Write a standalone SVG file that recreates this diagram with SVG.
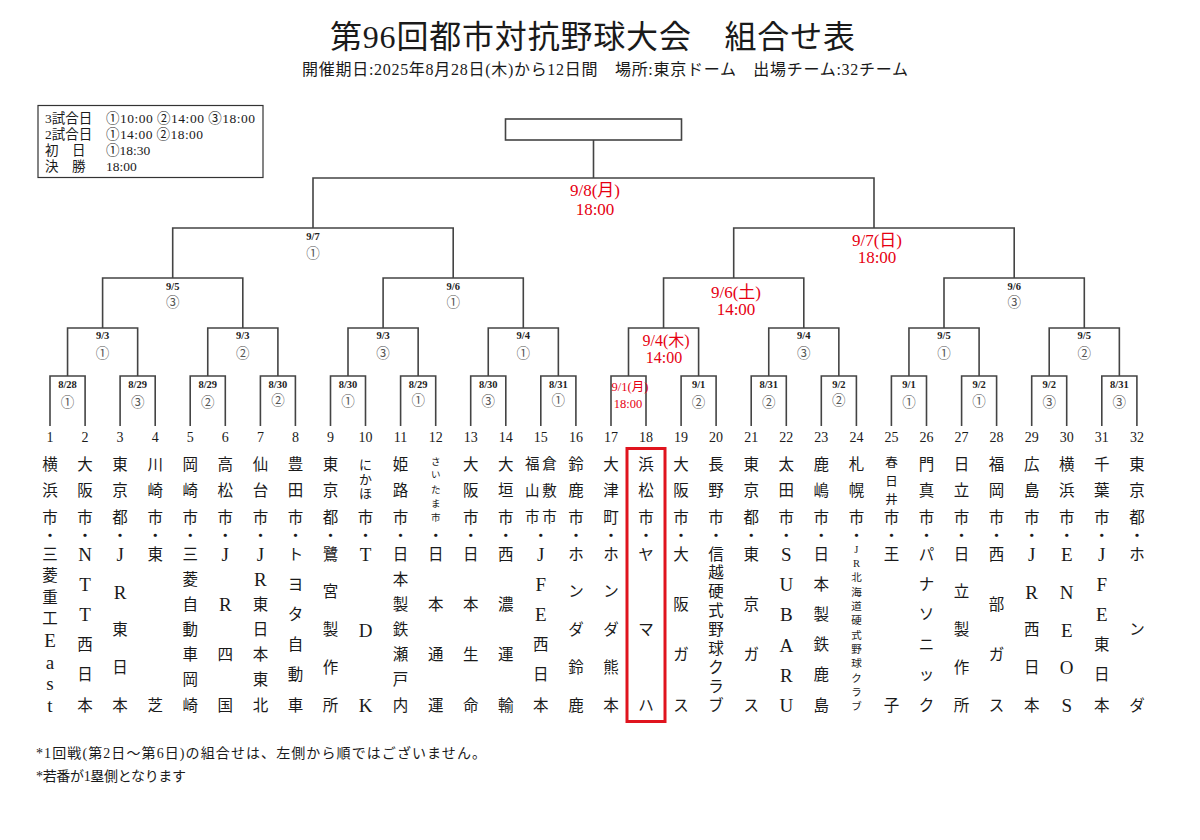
<svg xmlns="http://www.w3.org/2000/svg" width="1200" height="840" viewBox="0 0 1200 840">
<style>
text{font-family:"Liberation Serif","Noto Sans CJK JP",serif;fill:#1a1a1a}
.tt{font-size:32px;dominant-baseline:central}
.st{font-size:16px;dominant-baseline:central}
.lg{font-size:13.5px;dominant-baseline:central}
.ft{font-size:14px;dominant-baseline:central}
.nm{font-size:15.5px;text-anchor:middle;dominant-baseline:central}
.la{font-size:19px}
.no{font-size:14px;text-anchor:middle;dominant-baseline:central}
.dt{font-size:10.5px;font-weight:bold;text-anchor:middle;dominant-baseline:central;fill:#222}
.ci{font-family:"Noto Sans CJK JP",sans-serif;font-size:13.5px;text-anchor:middle;dominant-baseline:central;fill:#555}
.rd{font-size:17px;text-anchor:middle;dominant-baseline:central;fill:#e60012}
.rm{font-size:16px}
.rs{font-size:12.5px}
.ln{fill:none;stroke:#444;stroke-width:1.6}
.bx{fill:#fff;stroke:#444;stroke-width:1.6}
.hl{fill:none;stroke:#e0141e;stroke-width:3}
</style>
<rect width="1200" height="840" fill="#fff"/>

<g id="title">
<text class="tt" x="330" y="37" textLength="525" lengthAdjust="spacing">第96回都市対抗野球大会　組合せ表</text>
<text class="st" x="302" y="69.5" textLength="606" lengthAdjust="spacing">開催期日:2025年8月28日(木)から12日間　場所:東京ドーム　出場チーム:32チーム</text>
</g>

<g id="legend">
<rect x="38" y="105.5" width="225" height="72" fill="#fff" stroke="#333" stroke-width="1.2"/>
<text class="lg" x="45" y="118">3試合日</text><text class="lg" x="106" y="118" textLength="149" lengthAdjust="spacing">①10:00 ②14:00 ③18:00</text>
<text class="lg" x="45" y="134">2試合日</text><text class="lg" x="106" y="134" textLength="97" lengthAdjust="spacing">①14:00 ②18:00</text>
<text class="lg" x="45" y="150">初　日</text><text class="lg" x="106" y="150">①18:30</text>
<text class="lg" x="45" y="166">決　勝</text><text class="lg" x="106" y="166">18:00</text>
</g>

<g id="connectors">
<path class="ln" d="M50,426V376H85.1V426M120.1,426V376H155.2V426M190.2,426V376H225.3V426M260.4,426V376H295.4V426M330.5,426V376H365.5V426M400.6,426V376H435.7V426M470.7,426V376H505.8V426M540.8,426V376H575.9V426M611,426V376H646V426M681.1,426V376H716.1V426M751.2,426V376H786.3V426M821.3,426V376H856.4V426M891.4,426V376H926.5V426M961.6,426V376H996.6V426M1031.7,426V376H1066.7V426M1101.8,426V376H1136.9V426"/>
<path class="ln" d="M67.55,376V328H137.65V376M207.75,376V328H277.9V376M348,376V328H418.15V376M488.25,376V328H558.35V376M628.5,376V328H698.6V376M768.75,376V328H838.85V376M908.95,376V328H979.1V376M1049.2,376V328H1119.35V376"/>
<path class="ln" d="M102.6,328V278H242.8V328M383.1,328V278H523.3V328M663.55,328V278H803.8V328M944,328V278H1084.3V328"/>
<path class="ln" d="M172.7,278V228H453.2V278M733.7,278V228H1014.2V278"/>
<path class="ln" d="M313,228V178H874V228M593.5,178V140"/>
</g>

<g id="champion"><rect class="bx" x="505.5" y="119" width="176" height="21"/></g>

<g id="final"><text class="rd" x="595" y="190">9/8(月)</text><text class="rd" x="595" y="209">18:00</text></g>
<g id="sf-1"><text class="dt" x="313" y="236">9/7</text><text class="ci" x="313" y="252">①</text></g>
<g id="sf-2"><text class="rd" x="877" y="240">9/7(日)</text><text class="rd" x="877" y="257.5">18:00</text></g>
<g id="qf-1"><text class="dt" x="172.7" y="286.5">9/5</text><text class="ci" x="172.7" y="301">③</text></g>
<g id="qf-2"><text class="dt" x="453.2" y="286.5">9/6</text><text class="ci" x="453.2" y="301">①</text></g>
<g id="qf-3"><text class="rd" x="736" y="292">9/6(土)</text><text class="rd" x="736" y="309.5">14:00</text></g>
<g id="qf-4"><text class="dt" x="1014.2" y="286.5">9/6</text><text class="ci" x="1014.2" y="301">③</text></g>
<g id="r16-1"><text class="dt" x="102.6" y="335.5">9/3</text><text class="ci" x="102.6" y="352">①</text></g>
<g id="r16-2"><text class="dt" x="242.8" y="335.5">9/3</text><text class="ci" x="242.8" y="352">②</text></g>
<g id="r16-3"><text class="dt" x="383.1" y="335.5">9/3</text><text class="ci" x="383.1" y="352">③</text></g>
<g id="r16-4"><text class="dt" x="523.3" y="335.5">9/4</text><text class="ci" x="523.3" y="352">①</text></g>
<g id="r16-5"><text class="rd rm" x="666" y="340">9/4(木)</text><text class="rd rm" x="664" y="357.5">14:00</text></g>
<g id="r16-6"><text class="dt" x="803.8" y="335.5">9/4</text><text class="ci" x="803.8" y="352">③</text></g>
<g id="r16-7"><text class="dt" x="944" y="335.5">9/5</text><text class="ci" x="944" y="352">①</text></g>
<g id="r16-8"><text class="dt" x="1084.3" y="335.5">9/5</text><text class="ci" x="1084.3" y="352">②</text></g>
<g id="r32-1"><text class="dt" x="67.55" y="384">8/28</text><text class="ci" x="67.55" y="401">①</text></g>
<g id="r32-2"><text class="dt" x="137.65" y="384">8/29</text><text class="ci" x="137.65" y="401">③</text></g>
<g id="r32-3"><text class="dt" x="207.75" y="384">8/29</text><text class="ci" x="207.75" y="401">②</text></g>
<g id="r32-4"><text class="dt" x="277.9" y="384">8/30</text><text class="ci" x="277.9" y="399">②</text></g>
<g id="r32-5"><text class="dt" x="348" y="384">8/30</text><text class="ci" x="348" y="400">①</text></g>
<g id="r32-6"><text class="dt" x="418.15" y="384">8/29</text><text class="ci" x="418.15" y="399">①</text></g>
<g id="r32-7"><text class="dt" x="488.25" y="384">8/30</text><text class="ci" x="488.25" y="400">③</text></g>
<g id="r32-8"><text class="dt" x="558.35" y="384">8/31</text><text class="ci" x="558.35" y="399">①</text></g>
<g id="r32-9"><text class="rd rs" x="630" y="387">9/1(月)</text><text class="rd rs" x="628" y="404">18:00</text></g>
<g id="r32-10"><text class="dt" x="698.6" y="384">9/1</text><text class="ci" x="698.6" y="401">②</text></g>
<g id="r32-11"><text class="dt" x="768.75" y="384">8/31</text><text class="ci" x="768.75" y="401">②</text></g>
<g id="r32-12"><text class="dt" x="838.85" y="384">9/2</text><text class="ci" x="838.85" y="399">②</text></g>
<g id="r32-13"><text class="dt" x="908.95" y="384">9/1</text><text class="ci" x="908.95" y="401">①</text></g>
<g id="r32-14"><text class="dt" x="979.1" y="384">9/2</text><text class="ci" x="979.1" y="400">①</text></g>
<g id="r32-15"><text class="dt" x="1049.2" y="384">9/2</text><text class="ci" x="1049.2" y="401">③</text></g>
<g id="r32-16"><text class="dt" x="1119.35" y="384">8/31</text><text class="ci" x="1119.35" y="401">③</text></g>

<g id="team-01"><text class="no" x="50" y="437">1</text><text class="nm" x="50 50 50 50 50 50 50 50 50 50 50 50" y="464 490.5 517 535 554 575.6 597.1 618.7 640.3 661.9 683.4 705">横浜市・三菱重工<tspan class="la">East</tspan></text></g>
<g id="team-02"><text class="no" x="85.1" y="437">2</text><text class="nm" x="85.1 85.1 85.1 85.1 85.1 85.1 85.1 85.1 85.1 85.1" y="464 490.5 517 535 554 584.2 614.4 644.6 674.8 705">大阪市・<tspan class="la">NTT</tspan>西日本</text></g>
<g id="team-03"><text class="no" x="120.1" y="437">3</text><text class="nm" x="120.1 120.1 120.1 120.1 120.1 120.1 120.1 120.1 120.1" y="464 490.5 517 535 554 591.8 629.5 667.3 705">東京都・<tspan class="la">JR</tspan>東日本</text></g>
<g id="team-04"><text class="no" x="155.2" y="437">4</text><text class="nm" x="155.2 155.2 155.2 155.2 155.2 155.2" y="464 490.5 517 535 554 705">川崎市・東芝</text></g>
<g id="team-05"><text class="no" x="190.2" y="437">5</text><text class="nm" x="190.2 190.2 190.2 190.2 190.2 190.2 190.2 190.2 190.2 190.2 190.2" y="464 490.5 517 535 554 579.2 604.3 629.5 654.7 679.8 705">岡崎市・三菱自動車岡崎</text></g>
<g id="team-06"><text class="no" x="225.3" y="437">6</text><text class="nm" x="225.3 225.3 225.3 225.3 225.3 225.3 225.3 225.3" y="464 490.5 517 535 554 604.3 654.7 705">高松市・<tspan class="la">JR</tspan>四国</text></g>
<g id="team-07"><text class="no" x="260.4" y="437">7</text><text class="nm" x="260.4 260.4 260.4 260.4 260.4 260.4 260.4 260.4 260.4 260.4 260.4" y="464 490.5 517 535 554 579.2 604.3 629.5 654.7 679.8 705">仙台市・<tspan class="la">JR</tspan>東日本東北</text></g>
<g id="team-08"><text class="no" x="295.4" y="437">8</text><text class="nm" x="295.4 295.4 295.4 295.4 295.4 295.4 295.4 295.4 295.4 295.4" y="464 490.5 517 535 554 584.2 614.4 644.6 674.8 705">豊田市・トヨタ自動車</text></g>
<g id="team-09"><text class="no" x="330.5" y="437">9</text><text class="nm" x="330.5 330.5 330.5 330.5 330.5 330.5 330.5 330.5 330.5" y="464 490.5 517 535 554 591.8 629.5 667.3 705">東京都・鷺宮製作所</text></g>
<g id="team-10"><text class="no" x="365.5" y="437">10</text><text class="nm" style="font-size:13px" x="365.5 365.5 365.5" y="464 479.3 493.5">にかほ</text><text class="nm" x="365.5 365.5 365.5 365.5 365.5" y="517 535 554 629.5 705">市・<tspan class="la">TDK</tspan></text></g>
<g id="team-11"><text class="no" x="400.6" y="437">11</text><text class="nm" x="400.6 400.6 400.6 400.6 400.6 400.6 400.6 400.6 400.6 400.6 400.6" y="464 490.5 517 535 554 579.2 604.3 629.5 654.7 679.8 705">姫路市・日本製鉄瀬戸内</text></g>
<g id="team-12"><text class="no" x="435.7" y="437">12</text><text class="nm" style="font-size:9.5px" x="435.7 435.7 435.7 435.7 435.7" y="462 475 489.5 503.5 518">さいたま市</text><text class="nm" x="435.7 435.7 435.7 435.7 435.7" y="535 554 604.3 654.7 705">・日本通運</text></g>
<g id="team-13"><text class="no" x="470.7" y="437">13</text><text class="nm" x="470.7 470.7 470.7 470.7 470.7 470.7 470.7 470.7" y="464 490.5 517 535 554 604.3 654.7 705">大阪市・日本生命</text></g>
<g id="team-14"><text class="no" x="505.8" y="437">14</text><text class="nm" x="505.8 505.8 505.8 505.8 505.8 505.8 505.8 505.8" y="464 490.5 517 535 554 604.3 654.7 705">大垣市・西濃運輸</text></g>
<g id="team-15"><text class="no" x="540.8" y="437">15</text><text class="nm" style="font-size:14.5px" x="532.3 532.3 532.3" y="464 490.5 517">福山市</text><text class="nm" style="font-size:14.5px" x="549.5 549.5 549.5" y="464 490.5 517">倉敷市</text><text class="nm" x="540.8 540.8 540.8 540.8 540.8 540.8 540.8" y="535 554 584.2 614.4 644.6 674.8 705">・<tspan class="la">JFE</tspan>西日本</text></g>
<g id="team-16"><text class="no" x="575.9" y="437">16</text><text class="nm" x="575.9 575.9 575.9 575.9 575.9 575.9 575.9 575.9 575.9" y="464 490.5 517 535 554 591.8 629.5 667.3 705">鈴鹿市・ホンダ鈴鹿</text></g>
<g id="team-17"><text class="no" x="611" y="437">17</text><text class="nm" x="611 611 611 611 611 611 611 611 611" y="464 490.5 517 535 554 591.8 629.5 667.3 705">大津町・ホンダ熊本</text></g>
<g id="team-18"><text class="no" x="646" y="437">18</text><rect class="hl" x="627" y="448.5" width="38" height="273"/><text class="nm" x="646 646 646 646 646 646 646" y="464 490.5 517 535 554 629.5 705">浜松市・ヤマハ</text></g>
<g id="team-19"><text class="no" x="681.1" y="437">19</text><text class="nm" x="681.1 681.1 681.1 681.1 681.1 681.1 681.1 681.1" y="464 490.5 517 535 554 604.3 654.7 705">大阪市・大阪ガス</text></g>
<g id="team-20"><text class="no" x="716.1" y="437">20</text><text class="nm" x="716.1 716.1 716.1 716.1 716.1 716.1 716.1 716.1 716.1 716.1 716.1 716.1 716.1" y="464 490.5 517 535 554 572.9 591.8 610.6 629.5 648.4 667.3 686.1 705">長野市・信越硬式野球クラブ</text></g>
<g id="team-21"><text class="no" x="751.2" y="437">21</text><text class="nm" x="751.2 751.2 751.2 751.2 751.2 751.2 751.2 751.2" y="464 490.5 517 535 554 604.3 654.7 705">東京都・東京ガス</text></g>
<g id="team-22"><text class="no" x="786.3" y="437">22</text><text class="nm" x="786.3 786.3 786.3 786.3 786.3 786.3 786.3 786.3 786.3 786.3" y="464 490.5 517 535 554 584.2 614.4 644.6 674.8 705">太田市・<tspan class="la">SUBARU</tspan></text></g>
<g id="team-23"><text class="no" x="821.3" y="437">23</text><text class="nm" x="821.3 821.3 821.3 821.3 821.3 821.3 821.3 821.3 821.3 821.3" y="464 490.5 517 535 554 584.2 614.4 644.6 674.8 705">鹿嶋市・日本製鉄鹿島</text></g>
<g id="team-24"><text class="no" x="856.4" y="437">24</text><text class="nm" x="856.4 856.4 856.4 856.4" y="464 490.5 517 535">札幌市・</text><text class="nm" style="font-size:10.5px" x="856.4 856.4 856.4 856.4 856.4 856.4 856.4 856.4 856.4 856.4 856.4 856.4" y="549.3 563.6 577.9 592.2 606.5 620.9 635.2 649.5 663.8 678.1 692.4 706.7">JR北海道硬式野球クラブ</text></g>
<g id="team-25"><text class="no" x="891.4" y="437">25</text><text class="nm" style="font-size:12.5px" x="891.4 891.4 891.4" y="463 481.5 499.5">春日井</text><text class="nm" x="891.4 891.4 891.4 891.4" y="517 535 554 705">市・王子</text></g>
<g id="team-26"><text class="no" x="926.5" y="437">26</text><text class="nm" x="926.5 926.5 926.5 926.5 926.5 926.5 926.5 926.5 926.5 926.5" y="464 490.5 517 535 554 584.2 614.4 644.6 674.8 705">門真市・パナソニック</text></g>
<g id="team-27"><text class="no" x="961.6" y="437">27</text><text class="nm" x="961.6 961.6 961.6 961.6 961.6 961.6 961.6 961.6 961.6" y="464 490.5 517 535 554 591.8 629.5 667.3 705">日立市・日立製作所</text></g>
<g id="team-28"><text class="no" x="996.6" y="437">28</text><text class="nm" x="996.6 996.6 996.6 996.6 996.6 996.6 996.6 996.6" y="464 490.5 517 535 554 604.3 654.7 705">福岡市・西部ガス</text></g>
<g id="team-29"><text class="no" x="1031.7" y="437">29</text><text class="nm" x="1031.7 1031.7 1031.7 1031.7 1031.7 1031.7 1031.7 1031.7 1031.7" y="464 490.5 517 535 554 591.8 629.5 667.3 705">広島市・<tspan class="la">JR</tspan>西日本</text></g>
<g id="team-30"><text class="no" x="1066.7" y="437">30</text><text class="nm" x="1066.7 1066.7 1066.7 1066.7 1066.7 1066.7 1066.7 1066.7 1066.7" y="464 490.5 517 535 554 591.8 629.5 667.3 705">横浜市・<tspan class="la">ENEOS</tspan></text></g>
<g id="team-31"><text class="no" x="1101.8" y="437">31</text><text class="nm" x="1101.8 1101.8 1101.8 1101.8 1101.8 1101.8 1101.8 1101.8 1101.8 1101.8" y="464 490.5 517 535 554 584.2 614.4 644.6 674.8 705">千葉市・<tspan class="la">JFE</tspan>東日本</text></g>
<g id="team-32"><text class="no" x="1136.9" y="437">32</text><text class="nm" x="1136.9 1136.9 1136.9 1136.9 1136.9 1136.9 1136.9" y="464 490.5 517 535 554 629.5 705">東京都・ホンダ</text></g>

<g id="notes">
<text class="ft" x="36" y="753" textLength="450" lengthAdjust="spacing">*1回戦(第2日～第6日)の組合せは、左側から順ではございません。</text>
<text class="ft" x="36" y="776.5" textLength="150" lengthAdjust="spacing">*若番が1塁側となります</text>
</g>
</svg>
